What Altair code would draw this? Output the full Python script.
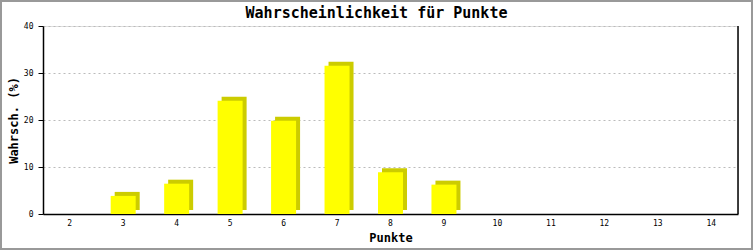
import altair as alt
import pandas as pd

categories = ["2", "3", "4", "5", "6", "7", "8", "9", "10", "11", "12", "13", "14"]
values = [0, 3.85, 6.45, 24.1, 19.85, 31.55, 8.9, 6.25, 0, 0, 0, 0, 0]
y_ticks = [0, 10, 20, 30, 40]
chart_title = "Wahrscheinlichkeit für Punkte"

df = pd.DataFrame({"Punkte": categories, "Wert": values})

W, H = 695, 188
FONT = "DejaVu Sans Mono"

x_enc = alt.X(
    "Punkte:N",
    sort=categories,
    scale=alt.Scale(domain=categories, paddingInner=0, paddingOuter=0),
    axis=alt.Axis(
        title="Punkte", ticks=False, labelAngle=0, labelPadding=5,
        labelFont=FONT, labelFontSize=8, labelColor="black",
        titleFont=FONT, titleFontSize=12, titleFontWeight="bold",
        titleColor="black", titlePadding=5,
        domainColor="black", domainWidth=1.5,
    ),
)
y_enc = alt.Y(
    "Wert:Q",
    scale=alt.Scale(domain=[0, 40], nice=False),
    axis=alt.Axis(
        title="Wahrsch. (%)", values=y_ticks, tickSize=5, tickColor="black",
        labelPadding=5, labelFont=FONT, labelFontSize=8, labelColor="black",
        titleFont=FONT, titleFontSize=12, titleFontWeight="bold",
        titleColor="black", titlePadding=3,
        domainColor="black", domainWidth=1.5,
        grid=True, gridColor="#bbbbbb", gridDash=[2, 3],
    ),
)

base = alt.Chart(df).transform_filter("datum.Wert > 0")

side = base.mark_bar(size=25, color="#cccc00", xOffset=4, yOffset=-4, y2Offset=0).encode(
    x=x_enc, y=y_enc
)
front = base.mark_bar(size=25, color="#ffff00").encode(x=x_enc, y=y_enc)

one = pd.DataFrame({"a": [0]})
right_line = alt.Chart(one).mark_rule(color="black", strokeWidth=1.5).encode(
    x=alt.value(W), y=alt.value(0), y2=alt.value(H)
)
border = alt.Chart(one).mark_rect(fill=None, stroke="#999999", strokeWidth=2).encode(
    x=alt.value(-42), x2=alt.value(709), y=alt.value(-25), y2=alt.value(223)
)
title_text = alt.Chart(one).mark_text(
    text=chart_title, font=FONT, fontSize=15, fontWeight="bold", color="black",
    align="center", baseline="middle",
).encode(x=alt.value(333.5), y=alt.value(-13))

chart = (
    alt.layer(side, front, right_line, border, title_text)
    .properties(
        width=W,
        height=H,
        autosize=alt.AutoSizeParams(type="none"),
        padding={"left": 43, "top": 26, "right": 15, "bottom": 36},
    )
    .configure_view(stroke=None)
    .configure(background="white")
)

chart.save("out.html", embed_options={"renderer": "svg", "actions": False})
